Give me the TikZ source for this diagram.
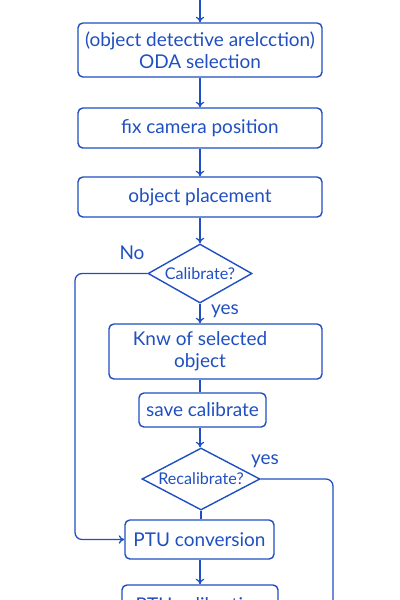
\documentclass[tikz,border=0pt]{standalone}
\usepackage{fontspec}
\setmainfont{Lato}
\usetikzlibrary{shapes.geometric,arrows.meta}
\definecolor{fc}{HTML}{1F4FC0}
\tikzset{
  box/.style={draw=fc, line width=1pt, rounded corners=3.5pt, inner sep=0pt, text=fc, align=center, font=\fontsize{13.5}{15.5}\selectfont},
  dec/.style={draw=fc, line width=1pt, diamond, inner sep=0pt},
  dect/.style={text=fc, font=\fontsize{11.5}{13}\selectfont, inner sep=0pt},
  conn/.style={draw=fc, line width=0.9pt},
  arr/.style={conn, -{To[length=4pt,width=6pt]}},
  lbl/.style={text=fc, font=\fontsize{13.5}{15.5}\selectfont, inner sep=0pt}
}
\begin{document}
\begin{tikzpicture}[x=0.025cm,y=-0.025cm]
\useasboundingbox (0,0) rectangle (400,600);
\clip (0,0) rectangle (400,600);
\coordinate (top) at (200,-5);
\node[box, minimum width=6.1cm, minimum height=1.35cm] (oda) at (200,50) {(object detective arelcction)\\ODA selection};
\node[box, minimum width=6.1cm, minimum height=1.0cm] (fix) at (200,128) {fix camera position};
\node[box, minimum width=6.1cm, minimum height=1.0cm] (place) at (200,197) {object placement};
\node[dec, minimum width=2.6cm, minimum height=1.475cm] (cal) at (200,273.5) {};
\node[dect] (calt) at (200,273.5) {Calibrate?};
\node[box, minimum width=5.325cm, minimum height=1.375cm] (knw) at (215.5,351.5) {};
\node[lbl, align=center] (knwt) at (200,351.5) {Knw of selected\\object};
\node[box, minimum width=3.175cm, minimum height=0.85cm] (save) at (202.5,410) {save calibrate};
\node[dec, minimum width=2.95cm, minimum height=1.55cm] (recal) at (201,479) {};
\node[dect] (recalt) at (201,479) {Recalibrate?};
\node[box, minimum width=3.725cm, minimum height=0.975cm] (ptu) at (199.5,539.5) {PTU conversion};
\node[box, minimum width=3.9cm, minimum height=1.0cm] (ptuc) at (200,605) {PTU calibration};
\node[lbl] (no) at (132,253) {No};
\node[lbl] (yes1) at (225,311) {yes};
\node[lbl] (yes2) at (265,461) {yes};
\coordinate (lc) at (75,273.5);
\coordinate (rc) at (333,479);
\coordinate (rend) at (333,610);

\draw[arr] (top) -- (oda.north -| top);
\draw[arr] (oda.south -| top) -- (fix.north -| top);
\draw[arr] (fix.south -| top) -- (place.north -| top);
\draw[arr] (place.south -| top) -- (cal.north);
\draw[arr] (cal.south) -- (cal.south |- knw.north);
\draw[conn] (cal.south |- knw.south) -- (cal.south |- save.north);
\draw[arr] (cal.south |- save.south) -- (recal.north -| cal.south);
\draw[conn] (recal.south) -- (recal.south |- ptu.north);
\draw[arr] (ptu.south -| top) -- (ptuc.north -| top);
\draw[arr, rounded corners=5pt] (cal.west) -- (lc) -- (lc |- ptu.west) -- (ptu.west);
\draw[conn, rounded corners=5pt] (recal.east) -- (rc) -- (rend);
\end{tikzpicture}
\end{document}
